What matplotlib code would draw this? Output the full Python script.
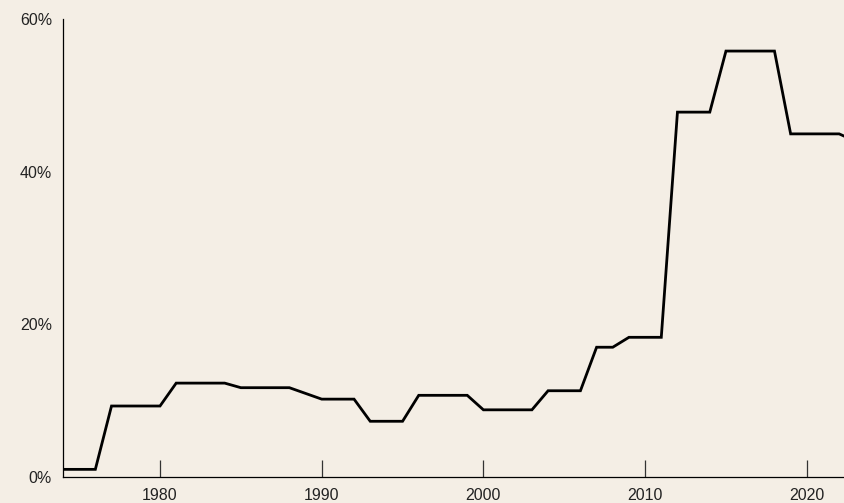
import matplotlib.pyplot as plt
from matplotlib.ticker import PercentFormatter

years = [1974, 1975, 1976, 1977, 1978, 1979, 1980, 1981, 1982, 1983, 1984,
         1985, 1986, 1987, 1988, 1989, 1990, 1991, 1992, 1993, 1994, 1995,
         1996, 1997, 1998, 1999, 2000, 2001, 2002, 2003, 2004, 2005, 2006,
         2007, 2008, 2009, 2010, 2011, 2012, 2013, 2014, 2015, 2016, 2017,
         2018, 2019, 2020, 2021, 2022, 2023]
share = [1.0, 1.0, 1.0, 9.3, 9.3, 9.3, 9.3, 12.3, 12.3, 12.3, 12.3,
         11.7, 11.7, 11.7, 11.7, 10.95, 10.2, 10.2, 10.2, 7.3, 7.3, 7.3,
         10.7, 10.7, 10.7, 10.7, 8.8, 8.8, 8.8, 8.8, 11.3, 11.3, 11.3,
         17.0, 17.0, 18.3, 18.3, 18.3, 47.8, 47.8, 47.8, 55.8, 55.8, 55.8,
         55.8, 44.95, 44.95, 44.95, 44.95, 44.0]

x_ticks = [1980, 1990, 2000, 2010, 2020]
y_ticks = [0, 20, 40, 60]

bg = '#f4eee5'
plt.rcParams['font.family'] = ['Liberation Sans', 'DejaVu Sans']

fig = plt.figure(figsize=(8.44, 5.03), dpi=100, facecolor=bg)
ax = fig.add_axes([63 / 844, 26 / 503, 1 - 63 / 844, 458 / 503])
ax.set_facecolor(bg)

ax.plot(years, share, color='black', linewidth=2.0, solid_joinstyle='miter')

ax.set_xlim(1974, 2022.3)
ax.set_ylim(0, 60)
ax.set_xticks(x_ticks)
ax.set_yticks(y_ticks)
ax.yaxis.set_major_formatter(PercentFormatter(decimals=0))

for side in ['top', 'right']:
    ax.spines[side].set_visible(False)
for side in ['left', 'bottom']:
    ax.spines[side].set_linewidth(0.9)
    ax.spines[side].set_color('black')

ax.tick_params(axis='x', direction='in', length=12, width=0.9,
               color='#333333', pad=8, labelsize=11.5, labelcolor='#222222')
ax.tick_params(axis='y', length=0, pad=8, labelsize=11.5, labelcolor='#222222')

fig.savefig('out.png', dpi=100, facecolor=bg)
